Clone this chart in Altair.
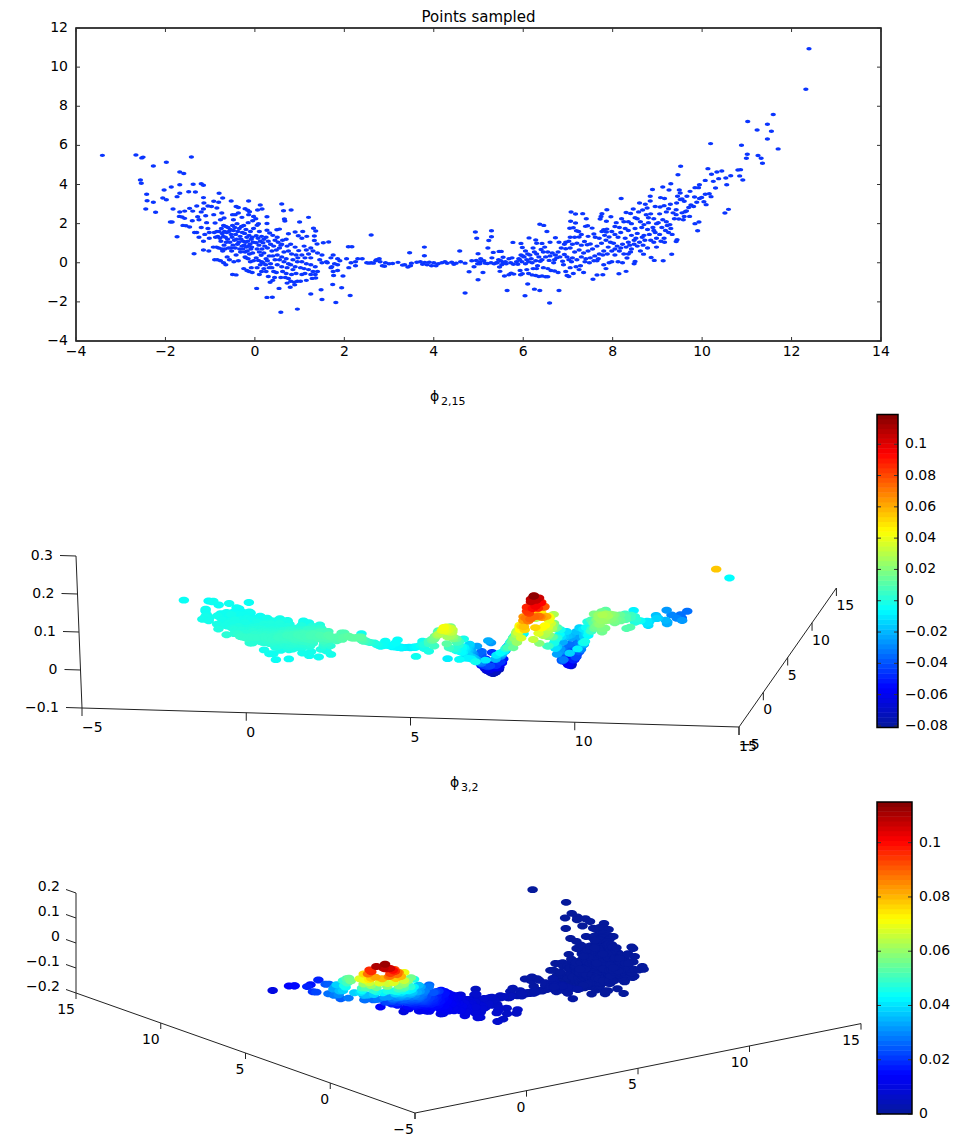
import altair as alt
import pandas as pd

FONT = "DejaVu Sans"
BLUE = "#0a35ff"
ELLIPSE = "M-1,0A1,0.66,0,1,1,1,0A1,0.66,0,1,1,-1,0Z"

# ---------- sampled points, band by band along the first coordinate ----------
xA = [-3.41,-2.66,-2.53,-2.50,-2.27,-1.98,-1.42,-1.68,-1.59,-2.56,
 -2.54,-2.42,-2.41,-2.27,-2.44,-2.22,-2.03,-1.87,-1.68,-1.38,
 -1.20,-1.15,-1.68,-1.74,-1.48,-1.33,-2.06,-1.98,-1.83,-1.68,
 -1.57,-1.46,-1.39,-1.89,-1.85,-1.69,-1.63,-1.57,-1.61,-1.54,
 -1.46,-1.74,-1.36,-1.15,-1.14,-1.30,-1.25,-1.20,-1.15,-1.10,
 -1.05,-1.20,-1.25,-1.30,-1.15,-1.05,-1.02,-1.40,-1.08,-1.03,
 -1.15,-1.28,-1.35,-1.12,-1.02]
yA = [5.49,5.51,5.36,5.40,4.95,5.14,5.41,4.64,4.56,4.23,
 4.06,3.50,3.17,3.09,2.75,2.58,3.72,3.87,3.99,4.01,
 4.04,3.96,3.55,3.38,3.63,3.62,3.31,3.22,2.75,2.59,
 2.64,2.78,2.64,2.08,2.08,2.37,2.34,2.27,1.91,1.89,
 1.83,1.33,0.46,3.33,3.05,2.90,2.20,2.60,2.75,2.40,
 2.90,1.80,1.30,1.55,1.10,1.75,1.55,2.15,2.05,0.60,
 0.65,2.35,1.55,1.45,1.25]
phi2A = [-4,-5,-4,-3,-4,-3,-4,-4,-5,-3,
 -4,-3,-2,-3,-2,-2,-4,-3,-4,-4,
 -3,-4,-2,-3,-3,-3,-2,-3,-2,-3,
 -2,-1,-2,-1,-2,-2,-3,-1,-1,-2,
 -1,0,2,-3,-2,-2,-1,-2,-2,-1,
 -3,0,1,0,1,-1,0,-1,-1,3,
 2,-2,0,0,1]
phi3A = [10,14,15,15,18,16,18,24,25,20,
 22,27,28,30,25,28,33,33,38,48,
 52,55,45,44,50,56,36,38,38,40,
 44,50,52,27,27,34,36,36,26,27,
 28,14,9,68,70,60,45,60,66,55,
 74,32,18,22,16,32,27,38,42,11,
 11,48,20,23,20]

xB = [-.92,-.81,-.72,-.53,-.80,-.42,-.37,-.14,-.22,-.16,
 -.12,-.37,-.44,-.29,-.50,-.74,-.85,-.92,-.97,-.69,
 -.77,-.89,-.48,-.14,-.03,-.91,-.88,-.93,-.90,-.85,
 -.83,-.86,-.84,-.80,-.78,-.81,-.75,-.73,-.76,-.74,
 -.77,-.70,-.68,-.71,-.69,-.72,-.70,-.65,-.63,-.66,
 -.64,-.67,-.65,-.60,-.58,-.61,-.59,-.62,-.55,-.53,
 -.56,-.54,-.57,-.50,-.48,-.51,-.49,-.52,-.50,-.45,
 -.43,-.46,-.44,-.47,-.42,-.40,-.38,-.41,-.39,-.42,
 -.35,-.33,-.36,-.34,-.37,-.30,-.28,-.31,-.29,-.32,
 -.25,-.23,-.26,-.24,-.27,-.22,-.25,-.20,-.18,-.21,
 -.19,-.22,-.20,-.18,-.15,-.13,-.16,-.14,-.17,-.15,
 -.13,-.10,-.08,-.11,-.09,-.12,-.10,-.08,-.05,-.03,
 -.06,-.04,-.07,-.05,-.03,-.06]
yB = [3.14,3.09,3.31,3.16,3.55,2.88,2.82,3.16,2.76,2.68,
 2.61,2.54,2.46,2.32,2.46,2.54,2.80,2.46,2.88,2.29,
 2.20,2.03,2.20,2.46,2.37,1.55,1.30,.80,.15,1.60,
 1.35,.80,.15,1.60,1.25,.75,1.75,1.50,1.10,.70,
 .10,1.90,1.60,1.35,.90,.60,.00,1.85,1.55,1.30,
 1.05,.70,-.10,1.80,1.60,1.20,.75,.30,1.70,1.45,
 1.05,.75,.15,1.90,1.65,1.30,.90,.60,-.60,1.80,
 1.45,1.15,.75,.05,-.62,2.00,1.60,1.20,.95,.40,
 1.75,1.35,1.05,.70,.10,1.85,1.55,1.20,.85,.55,
 1.90,1.50,1.10,.90,.70,.30,-.30,1.70,1.30,1.05,
 .80,.55,.25,-.40,2.05,1.40,1.10,.85,.60,.20,
 -.45,1.60,1.20,.95,.70,.45,.05,-.25,2.15,1.75,
 1.30,1.05,.80,.50,.10,-.50]
phi2B = [-3,-3,-3,-2,-4,-2,-2,-2,-1,-1,
 -1,-1,-1,0,-1,-1,-2,-2,-2,-1,
 -1,-1,0,-1,0,0,0,1,4,0,
 0,1,3,0,1,2,0,0,1,2,
 4,-1,0,1,1,2,4,0,0,1,
 2,2,4,0,0,1,2,3,0,1,
 1,2,4,0,0,1,2,3,2,0,
 1,1,2,4,2,-1,0,1,2,3,
 0,1,2,2,4,0,0,1,2,3,
 0,0,1,2,2,3,2,0,1,2,
 2,3,4,2,-1,1,1,2,3,4,
 2,0,1,2,2,3,4,3,-1,0,
 1,2,2,3,4,2]
phi3B = [88,96,96,110,76,108,106,112,106,100,
 96,94,88,78,86,80,82,68,78,66,
 58,46,68,88,80,26,20,15,11,30,
 23,15,11,30,22,15,38,29,20,15,
 12,46,32,25,18,15,11,44,32,25,
 20,16,11,44,34,23,17,13,40,30,
 21,17,13,50,36,25,19,16,10,46,
 31,23,17,13,10,58,36,24,20,15,
 43,28,22,18,14,50,35,25,20,16,
 52,34,24,21,18,15,12,42,28,23,
 20,17,15,12,58,30,25,21,18,15,
 12,37,27,22,19,17,14,13,60,42,
 28,23,20,17,14,12]

xC = [.12,.16,.06,.27,.08,.27,.60,.64,.81,.66,
 .67,.90,.75,.49,.55,.27,.33,.02,.05,.10,
 .03,.07,.12,.03,.09,.15,.20,.18,.22,.16,
 .05,.10,.14,.03,.08,.20,.25,.15,.25,.30,
 .35,.28,.38,.32,.28,.35,.40,.45,.42,.48,
 .40,.45,.38,.42,.50,.52,.55,.50,.55,.50,
 .48,.44,.58,.62,.65,.60,.65,.60,.62,.58,
 .70,.72,.75,.70,.75,.72,.70,.75,.68,.80,
 .82,.85,.80,.85,.82,.80,.90,.92,.95,.90,
 .92,.95,.88,.54,.79,.89,.72,.58,.95,.27,
 .39,.04,.30,.25,.20,.15,.10,.05,.34,.40,
 .18,.12,.32,.24,.60,.97,.98,.96]
yC = [2.95,2.75,2.70,2.35,2.00,2.01,3.00,2.66,2.70,2.24,
 2.13,1.57,1.48,1.69,1.72,1.66,1.52,2.25,1.92,1.60,
 1.38,1.25,1.10,1.02,.90,1.35,1.20,1.02,.85,.70,
 .70,.55,.38,.25,.12,.50,.20,.05,1.30,1.10,
 .95,.75,.60,.35,.10,-.05,1.40,1.15,.85,.65,
 .35,.15,-.25,-.45,1.30,1.05,.75,.40,.15,-.10,
 -.50,-.75,.90,1.15,.55,.30,.05,-.20,-.45,-.75,
 1.20,.85,.60,.20,-.05,-.25,-.55,-.80,-.75,.95,
 .45,.15,-.10,-.35,-.60,-.95,.80,.40,.05,-.20,
 -.55,-.95,-1.00,-1.31,-1.25,-1.13,-1.04,-2.53,-2.37,-1.77,
 -1.76,-1.31,-.70,-.45,-.30,-.45,-.60,-.25,-1.00,-.90,
 .00,-.10,-.25,-.10,.95,1.38,.62,.25]
phi2C = [-2,-1,-1,-1,0,0,-3,-2,-2,-1,
 0,2,2,1,1,0,1,-1,0,0,
 1,1,2,2,2,1,2,2,3,3,
 3,3,4,4,4,4,5,4,2,2,
 3,4,4,5,5,4,2,3,4,5,
 5,5,3,2,3,3,4,6,5,4,
 2,1,4,3,6,6,5,3,2,1,
 3,5,6,6,5,3,2,1,1,4,
 7,6,5,3,2,0,6,7,6,4,
 2,0,0,-2,-1,-1,0,-4,-4,-3,
 -3,-2,1,2,3,2,2,3,0,0,
 4,4,3,4,4,4,7,7]
phi3C = [92,84,88,58,48,42,70,56,46,36,
 33,22,24,29,28,32,28,66,48,34,
 28,25,22,21,20,26,23,21,19,18,
 18,17,15,15,14,16,14,14,23,21,
 19,17,16,14,13,12,23,20,17,15,
 14,13,12,11,20,18,15,14,13,12,
 11,10,16,17,14,13,12,11,10,10,
 17,15,13,12,11,11,10,9,9,15,
 12,11,10,10,9,8,13,11,10,10,
 9,8,8,9,8,8,9,7,6,9,
 8,10,11,12,12,12,12,13,10,10,
 13,13,12,12,16,16,12,10]

xD = [1.00,1.20,1.07,1.31,1.36,1.33,1.16,1.39,1.53,1.65,
 1.33,1.05,1.10,1.15,1.25,1.05,1.12,1.20,1.30,1.25,
 1.40,1.50,1.45,1.05,1.15,1.25,1.35,1.02,1.10,1.20,
 1.30,1.40,1.05,1.12,1.25,1.35,1.02,1.15,1.28,1.36,
 1.50,1.60,1.70,1.75,1.85,1.90,1.72,1.62,1.78,1.85,
 1.70,1.75,1.85,1.76,1.97,1.94,1.81,1.50,1.48,1.74,
 1.25]
yD = [2.08,2.32,1.60,1.76,1.62,1.37,1.35,.96,1.02,1.06,
 1.14,1.25,.85,.65,.75,.40,.25,.45,.60,.25,
 .50,.40,.15,.05,-.05,-.10,-.20,-.25,-.30,-.35,
 -.45,-.45,-.60,-.55,-.60,-.60,-.95,-.90,-.80,-.78,
 .00,.05,.25,.40,.20,.10,-.20,.00,-.05,-.10,
 -.25,-.45,-.40,-.65,-.68,-1.28,-2.03,-1.88,-1.38,-1.11,
 -1.60]
phi2D = [1,0,3,3,3,4,4,7,7,7,
 5,4,6,7,7,7,7,8,8,8,
 8,9,8,6,6,6,5,4,4,4,
 3,3,2,2,2,2,0,0,1,1,
 7,8,9,10,10,9,6,7,8,8,
 6,4,4,2,2,-1,-3,-3,-2,0,
 -2]
phi3D = [28,26,20,16,14,13,16,10,9,8,
 12,16,12,11,11,10,10,10,10,9,
 9,8,8,10,9,9,8,9,9,8,
 8,8,9,8,8,8,8,8,7,7,
 8,7,7,7,7,6,7,7,7,6,
 7,7,6,6,6,6,6,6,7,6,
 7]

xE = [2.09,2.17,2.13,2.60,3.46,3.79,3.79,2.05,2.15,2.10,
 2.25,2.30,2.25,2.40,2.50,2.55,2.60,2.65,2.70,2.72,
 2.78,2.80,2.85,2.90,2.92,3.00,3.08,3.20,3.30,3.35,
 3.42,3.48,3.50,3.62,3.70,3.75,3.80,3.85,3.90,3.95,
 4.00,4.05,4.10,4.18,4.25,4.30,4.40,4.45,4.50,4.58,
 4.60,4.70,4.79,4.70,4.85,4.90,4.93,4.96,4.99,4.99,
 4.95,4.98]
yE = [.82,.82,-1.67,1.42,.51,.80,.36,.20,.00,-.25,
 .05,.20,-.15,.20,.00,-.02,.00,-.02,.10,.15,
 .20,.05,-.15,-.18,.00,-.05,-.04,.02,-.12,-.10,
 -.22,-.15,-.02,.03,.05,-.08,.02,-.10,.03,-.15,
 .00,-.15,-.05,.00,.05,-.03,.03,-.08,-.02,.60,
 .05,-.02,-.46,-1.55,.10,-.20,1.57,1.25,-.87,.46,
 .12,-.05]
phi2E = [9,9,-2,-3,-4,-5,-5,10,10,8,
 11,11,10,12,12,12,12,12,12,12,
 11,11,9,7,6,4,2,0,-2,-3,
 -4,-4,-5,-6,-6,-7,-7,-7,-8,-7,
 -8,-8,-9,-9,-9,-9,-8,-7,-6,-3,
 -3,0,-2,-3,7,6,8,10,-1,14,
 12,12]
phi3E = [7,7,6,5,3,3,3,7,6,6,
 6,6,6,6,5,5,5,5,5,5,
 5,5,4,4,4,4,4,3,3,3,
 3,3,3,3,2,2,2,2,2,2,
 2,2,2,2,1,1,1,1,1,1,
 1,1,1,1,1,1,1,1,1,1,
 1,1]

xF = [5.29,5.29,5.23,5.21,5.33,5.46,5.51,5.77,5.95,5.98,
 5.10,5.48,5.58,5.68,5.73,5.79,5.93,5.98,5.94,5.64,
 5.05,5.04,5.03,5.15,5.20,5.28,5.35,5.40,5.30,5.45,
 5.50,5.55,5.60,5.47,5.52,5.62,5.68,5.72,5.78,5.85,
 5.90,5.95,5.92,5.88,5.99,5.97,5.75,5.42,5.55,5.12]
yF = [1.64,1.33,1.14,.75,.53,.58,.58,1.04,.99,.78,
 -.50,-.44,-.68,-.61,-.53,-.58,-.39,-.56,-.61,-1.42,
 .20,.05,-.05,-.02,-.04,.00,-.05,.00,.25,.15,
 .10,.00,.05,-.22,-.10,-.05,.20,.00,-.08,.05,
 .20,.40,.15,-.08,.35,.05,.25,.00,.28,.10]
phi2F = [18,22,24,28,38,34,30,-2,-14,-16,
 6,12,6,2,0,-3,-8,-8,-6,-9,
 18,16,15,26,30,38,40,38,42,36,
 32,26,22,26,24,18,14,8,2,-4,
 -8,-14,-10,-6,-16,-12,6,36,30,24]
phi3F = [1,1,1,1,1,1,1,1,0,0,
 1,1,1,0,0,0,0,0,0,0,
 1,1,1,1,1,1,1,1,1,1,
 1,0,0,1,0,0,0,0,0,0,
 0,0,0,0,0,0,0,1,0,1]

xG = [6.13,6.28,6.30,6.42,6.37,6.46,6.53,6.72,6.60,6.80,
 6.04,6.37,6.25,6.10,6.59,6.80,6.05,6.10,6.02,6.15,
 6.08,6.18,6.12,6.05,6.20,6.25,6.22,6.30,6.35,6.28,
 6.38,6.32,6.42,6.50,6.45,6.40,6.48,6.55,6.60,6.58,
 6.65,6.72,6.70,6.68,6.75,6.78,6.85,6.82,6.88,6.92,
 6.95,6.98,6.90,6.12,6.20,6.28,6.35,6.42,6.50,6.55,
 6.62,6.55,6.70,6.78,6.45,6.22,6.30,6.08,6.95,6.98,
 6.92,6.95]
yG = [1.27,1.16,1.00,.99,1.97,1.91,1.60,1.28,1.05,1.05,
 -1.69,-1.42,-1.35,-1.09,-2.06,-1.42,.60,.45,.30,.40,
 .15,.20,.05,-.05,.00,.55,.75,.45,.30,.10,
 .08,-.15,.15,.30,.55,.68,.80,.55,.35,.12,
 .50,.40,.15,.00,.25,.55,.75,.30,.08,.42,
 .72,.30,-.10,-.55,-.62,-.65,-.70,-.68,-.72,-.72,
 -.40,-.30,-.42,-.50,-.25,-.30,-.30,-.35,-.45,-.65,
 .95,1.05]
phi2G = [-24,-36,-40,-52,-22,-26,-46,-66,-66,-66,
 -5,-8,-8,-12,-3,-10,-22,-26,-18,-30,
 -24,-32,-26,-20,-32,-40,-36,-44,-48,-40,
 -46,-38,-54,-64,-60,-56,-62,-70,-72,-66,
 -76,-78,-72,-62,-76,-78,-74,-72,-58,-62,
 -56,-46,-48,-14,-16,-18,-20,-24,-28,-32,
 -44,-44,-46,-42,-36,-24,-28,-16,-26,-20,
 -60,-52]
phi3G = [0,0,0,0,0,0,0,0,0,0,
 0,0,0,0,0,0,0,0,0,0,
 0,0,0,0,0,0,0,0,0,0,
 0,0,0,0,0,0,0,0,0,0,
 0,0,0,0,0,0,0,0,0,0,
 0,0,0,0,0,0,0,0,0,0,
 0,0,0,0,0,0,0,0,0,0,
 0,0]

xH = [7.07,7.17,7.33,7.41,7.06,7.17,7.04,7.12,7.19,7.24,
 7.39,7.44,7.54,7.74,7.76,7.87,7.96,7.72,7.86,7.80,
 7.87,7.76,7.86,7.58,7.61,7.37,7.43,7.50,7.05,7.15,
 7.25,7.02,7.10,7.20,7.30,7.05,7.15,7.25,7.35,7.45,
 7.55,7.65,7.75,7.85,7.95,7.90,7.80,7.70,7.60,7.50,
 7.40,7.30,7.20,7.10,7.02,7.08,7.18,7.28,7.38,7.48,
 7.58,7.68,7.78,7.88,7.98,7.05,7.12,7.02,7.25,7.35,
 7.56,7.65,7.78,7.80,7.85,7.92,7.98,7.70,7.82,7.92,
 7.98,7.45,7.30,7.65]
yH = [2.59,2.49,2.51,2.25,2.12,2.03,1.76,1.79,1.64,1.60,
 1.86,1.89,1.77,2.37,2.51,2.71,2.35,2.24,2.12,1.69,
 1.72,1.60,1.57,1.47,1.30,1.09,.92,.96,1.30,1.30,
 1.32,1.10,.95,1.00,.90,.75,.55,.65,.50,.60,
 .70,.85,1.00,1.15,1.05,.80,.60,.45,.35,.25,
 .20,.30,.15,.25,.15,.05,-.20,-.15,.05,.00,
 .10,.20,.40,.45,.60,-.25,-.55,-.70,-.35,-.50,
 -.84,-.63,-.61,-.10,-.30,.00,.05,1.25,1.40,1.32,
 1.60,1.35,1.45,.10]
phi2H = [-30,-24,-14,-6,-28,-18,-26,-16,-6,0,
 10,16,34,38,30,34,48,44,62,84,
 92,80,96,46,52,16,26,36,-24,-12,
 0,-30,-18,-6,8,-26,-14,0,12,28,
 45,65,88,106,116,106,84,62,44,28,
 14,4,-8,-18,-28,-20,-8,2,12,22,
 36,52,70,82,92,-14,-6,-10,2,8,
 14,24,36,56,52,70,74,82,100,112,
 100,26,6,44]
phi3H = [0,0,0,0,0,0,0,0,0,0,
 0,0,0,0,0,0,0,0,0,0,
 0,0,0,0,0,0,0,0,0,0,
 0,0,0,0,0,0,0,0,0,0,
 0,0,0,0,0,0,0,0,0,0,
 0,0,0,0,0,0,0,0,0,0,
 0,0,0,0,0,0,0,0,0,0,
 0,0,0,0,0,0,0,0,0,0,
 0,0,0,0]

xJ = [8.19,8.60,8.73,8.77,8.67,8.84,8.84,8.89,8.95,8.30,
 8.40,8.50,8.20,8.25,8.08,8.05,8.15,8.35,8.42,8.55,
 8.62,8.70,8.85,8.80,8.92,8.98,8.90,8.78,8.65,8.50,
 8.35,8.18,8.05,8.12,8.28,8.42,8.55,8.70,8.82,8.95,
 8.98,8.85,8.72,8.60,8.48,8.35,8.22,8.10,8.02,8.05,
 8.18,8.30,8.42,8.55,8.68,8.78,8.92,8.98,8.05,8.12,
 8.22,8.32,8.30,8.14,8.50,8.48,8.69,8.86,8.93,8.15,
 8.40,8.62,8.35,8.25,8.48,8.75,8.58,8.46,8.92,8.80,
 8.28,8.66,8.52,8.38]
yJ = [3.28,3.05,2.99,2.80,2.70,3.40,3.16,3.74,2.88,2.57,
 2.52,2.30,2.25,2.10,2.05,1.85,1.80,2.10,2.00,2.25,
 2.10,1.95,2.50,2.30,2.25,2.00,1.80,1.70,1.80,1.75,
 1.65,1.55,1.45,1.30,1.25,1.40,1.50,1.40,1.45,1.55,
 1.25,1.15,1.15,1.05,1.15,1.05,.95,.85,1.00,.70,
 .75,.80,.70,.85,.90,.75,1.05,.80,.40,.05,
 .00,.24,-.44,-.56,.07,-.05,.44,.27,.12,.60,
 .55,.60,.45,.45,.95,2.45,2.60,2.75,1.65,2.05,
 1.75,1.30,1.25,.90]
phi2J = [28,-12,-20,-24,-18,-18,-24,-14,-34,18,
 8,-6,42,40,72,86,76,22,14,-12,
 -22,-38,-38,-44,-54,-62,-68,-56,-34,-4,
 34,78,104,94,60,26,0,-34,-56,-70,
 -68,-58,-40,-16,8,36,62,88,106,96,
 68,44,22,-2,-26,-44,-62,-58,74,52,
 38,28,20,32,4,6,-24,-38,-32,72,
 20,-12,28,44,12,-34,-16,-2,-64,-50,
 40,-26,-2,30]
phi3J = [0,0,0,0,0,0,0,0,0,0,
 0,0,0,0,0,0,0,0,0,0,
 0,0,0,0,0,0,0,0,0,0,
 0,0,0,0,0,0,0,0,0,0,
 0,0,0,0,0,0,0,0,0,0,
 0,0,0,0,0,0,0,0,0,0,
 0,0,0,0,0,0,0,0,0,0,
 0,0,0,0,0,0,0,0,0,0,
 0,0,0,0]

xK = [9.12,9.26,9.07,9.16,9.06,9.15,9.25,9.29,9.42,9.42,
 9.48,9.62,9.60,9.72,9.58,9.44,9.42,9.33,9.32,9.13,
 9.51,9.55,9.43,9.51,9.49,9.30,9.52,9.46,9.94,9.84,
 9.92,9.73,9.66,9.83,9.60,9.75,9.94,9.99,9.88,9.81,
 9.70,9.93,9.84,9.90,9.05,9.12,9.20,9.28,9.38,9.02,
 9.10,9.18,9.25,9.05,9.15,9.22,9.30,9.08,9.16,9.55,
 9.65,9.35,9.20,9.45]
yK = [3.87,3.72,3.33,3.28,2.85,2.92,2.76,2.99,2.71,2.46,
 2.24,2.61,2.37,2.37,2.20,1.18,1.09,1.45,.43,.10,
 3.23,3.26,3.05,3.57,3.72,4.04,4.93,4.50,3.99,3.84,
 3.84,3.65,3.40,3.36,3.14,2.95,3.28,3.34,3.09,2.88,
 2.82,2.08,2.00,1.64,2.50,2.20,2.10,1.95,2.25,2.05,
 1.80,1.65,1.55,1.45,1.25,1.90,1.75,1.10,1.05,2.55,
 2.65,2.55,2.60,3.40]
phi2K = [0,8,-10,-4,-24,-16,-12,-6,4,2,
 6,18,16,22,14,-2,-4,-10,-8,-14,
 18,22,12,24,22,18,12,16,18,22,
 20,26,28,26,24,24,20,18,20,22,
 24,18,18,16,-32,-38,-30,-24,-6,-52,
 -46,-38,-30,-56,-44,-28,-20,-50,-42,12,
 20,-4,-16,14]
phi3K = [0,0,0,0,0,0,0,0,0,0,
 0,0,0,0,0,0,0,0,0,0,
 0,0,0,0,0,0,0,0,0,0,
 0,0,0,0,0,0,0,0,0,0,
 0,0,0,0,0,0,0,0,0,0,
 0,0,0,0,0,0,0,0,0,0,
 0,0,0,0]

xL = [12.39,12.32,11.59,11.02,11.46,11.23,11.55,11.46,11.70,10.88,
 10.19,11.01,10.99,11.25,11.32,11.35,10.13,10.21,10.33,10.44,
 10.80,10.86,10.64,10.84,10.91,10.37,10.53,10.25,10.07,10.55,
 10.30,10.07,10.16,10.20,10.04,10.09,10.59,10.51]
yL = [10.94,8.87,7.58,7.22,7.08,6.79,6.72,6.33,5.82,6.01,
 6.09,5.55,5.34,5.48,5.34,5.09,4.81,4.52,4.64,4.69,
 4.74,4.76,4.45,4.44,4.23,4.30,4.33,4.16,4.21,3.99,
 3.82,3.50,3.53,3.38,3.12,2.97,2.73,2.54]
phi2L = [-6,55,-34,-26,-34,-30,-36,-30,-26,-18,
 -8,-16,-14,-20,-22,-22,6,8,6,2,
 -10,-12,-4,-10,-12,6,2,10,14,0,
 10,16,14,14,18,16,10,10]
phi3L = [0,0,0,0,0,0,0,0,0,0,
 0,0,0,0,0,0,0,0,0,0,
 0,0,0,0,0,0,0,0,0,0,
 0,0,0,0,0,0,0,0]

xs = xA + xB + xC + xD + xE + xF + xG + xH + xJ + xK + xL
ys = yA + yB + yC + yD + yE + yF + yG + yH + yJ + yK + yL
phi2 = phi2A + phi2B + phi2C + phi2D + phi2E + phi2F + phi2G + phi2H + phi2J + phi2K + phi2L
phi3 = phi3A + phi3B + phi3C + phi3D + phi3E + phi3F + phi3G + phi3H + phi3J + phi3K + phi3L

# ---------- tick values ----------
TOP_X = [-4, -2, 0, 2, 4, 6, 8, 10, 12, 14]
TOP_Y = [-4, -2, 0, 2, 4, 6, 8, 10, 12]
AXIS_3D = [-5, 0, 5, 10, 15]
P2_Z = [-0.1, 0, 0.1, 0.2, 0.3]
P3_Z = [-0.2, -0.1, 0, 0.1, 0.2]
CB2_TICKS = [-0.08, -0.06, -0.04, -0.02, 0, 0.02, 0.04, 0.06, 0.08, 0.1]
CB3_TICKS = [0, 0.02, 0.04, 0.06, 0.08, 0.1]
CB2_DOMAIN = [-0.081, 0.119]
CB3_DOMAIN = [0, 0.115]
JET_STOPS = [0, 0.125, 0.375, 0.625, 0.875, 1]
JET_COLORS = ["#05199b", "#0000ff", "#00ffff", "#ffff00", "#ff0000", "#800000"]

LEFT, PANEL_W = 76, 805


def jet_scale(domain):
    lo, hi = domain
    return alt.Scale(domain=[lo + s * (hi - lo) for s in JET_STOPS],
                     range=JET_COLORS, interpolate="rgb")


def lab(v):
    return str(v).replace("-", "\u2212")


def one():
    return alt.Data(values=[{"a": 1}])


# ---------- top scatter ----------
TOP_H = 313
sx_top = alt.Scale(domain=[-4, 14], nice=False, zero=False)
sy_top = alt.Scale(domain=[-4, 12], nice=False, zero=False)
top_df = pd.DataFrame({"x": xs, "y": ys})
top_pts = alt.Chart(top_df).mark_point(shape=ELLIPSE, filled=True, size=27, opacity=1,
                                       color=BLUE, strokeWidth=0).encode(
    x=alt.X("x:Q", scale=sx_top, axis=None),
    y=alt.Y("y:Q", scale=sy_top, axis=None),
)
frame_top = alt.Chart(one()).mark_rect(fillOpacity=0, stroke="black", strokeWidth=1.5).encode(
    x=alt.value(0), x2=alt.value(PANEL_W), y=alt.value(0), y2=alt.value(TOP_H))
tx = pd.DataFrame({"t": TOP_X, "s": [lab(v) for v in TOP_X]})
ty = pd.DataFrame({"t": TOP_Y, "s": [lab(v) for v in TOP_Y]})
tick_kw = dict(color="#333333", strokeWidth=1)
top_layers = [top_pts, frame_top]
for a, b in ((0, 4), (TOP_H - 4, TOP_H)):
    top_layers.append(alt.Chart(tx).mark_rule(**tick_kw).encode(
        x=alt.X("t:Q", scale=sx_top, axis=None), y=alt.value(a), y2=alt.value(b)))
for a, b in ((0, 4), (PANEL_W - 4, PANEL_W)):
    top_layers.append(alt.Chart(ty).mark_rule(**tick_kw).encode(
        y=alt.Y("t:Q", scale=sy_top, axis=None), x=alt.value(a), x2=alt.value(b)))
top_layers.append(alt.Chart(tx).mark_text(font=FONT, fontSize=14, color="black", align="center",
                                          baseline="middle").encode(
    x=alt.X("t:Q", scale=sx_top, axis=None), y=alt.value(TOP_H + 11), text="s:N"))
top_layers.append(alt.Chart(ty).mark_text(font=FONT, fontSize=14, color="black", align="right",
                                          baseline="middle").encode(
    y=alt.Y("t:Q", scale=sy_top, axis=None), x=alt.value(-8), text="s:N"))
title_top = alt.Chart(one()).mark_text(text="Points sampled", font=FONT, fontSize=15,
                                       color="black", align="center", baseline="middle").encode(
    x=alt.value(478.5 - LEFT), y=alt.value(17 - 28))
top = alt.layer(*top_layers, title_top).properties(width=PANEL_W, height=TOP_H)


# ---------- 3-D views: the data are projected with the view ----------
def make_proj(origin, ex, ey, ez, lo_xy=-5, lo_z=0.0):
    def proj(x, y, z):
        dx, dy, dz = x - lo_xy, y - lo_xy, z - lo_z
        return (origin[0] + dx * ex[0] + dy * ey[0] + dz * ez[0],
                origin[1] + dx * ex[1] + dy * ey[1] + dz * ez[1])
    return proj


def view3d(proj, phi, cdomain, lines, ticks, labels, title, sub, title_xy, top_px, height, bar, bar_ticks):
    sxs = alt.Scale(domain=[LEFT, LEFT + PANEL_W], nice=False, zero=False)
    sys = alt.Scale(domain=[top_px + height, top_px], nice=False, zero=False)
    X = alt.X("sx:Q", scale=sxs, axis=None)
    Y = alt.Y("sy:Q", scale=sys, axis=None)
    color = alt.Color("v:Q", scale=jet_scale(cdomain), legend=None)

    rows = [dict(zip(("sx", "sy"), proj(x, y, p / 1000.0)), v=p / 1000.0)
            for x, y, p in zip(xs, ys, phi, strict=True)]
    rows.sort(key=lambda r: r["v"])
    pts = alt.Chart(pd.DataFrame(rows)).mark_point(shape=ELLIPSE, filled=True, size=110, opacity=1,
                                                   strokeWidth=0).encode(x=X, y=Y, color=color)
    seg_rows = []
    for (a, b) in lines:
        p, q = proj(*a), proj(*b)
        seg_rows.append({"sx": p[0], "sy": p[1], "sx2": q[0], "sy2": q[1]})
    for (a, d) in ticks:
        p = proj(*a)
        seg_rows.append({"sx": p[0], "sy": p[1], "sx2": p[0] + d[0], "sy2": p[1] + d[1]})
    segs = alt.Chart(pd.DataFrame(seg_rows)).mark_rule(color="#222222", strokeWidth=1).encode(
        x=X, y=Y, x2="sx2:Q", y2="sy2:Q")
    layers = [segs, pts]
    for align, entries in labels.items():
        lrows = []
        for (a, off, text) in entries:
            p = proj(*a)
            lrows.append({"sx": p[0] + off[0], "sy": p[1] + off[1], "t": text})
        layers.append(alt.Chart(pd.DataFrame(lrows)).mark_text(
            font=FONT, fontSize=14, color="black", align=align, baseline="middle").encode(
            x=X, y=Y, text="t:N"))
    layers.append(alt.Chart(one()).mark_text(text=title, font=FONT, fontSize=14, color="black",
                                             align="left", baseline="middle").encode(
        x=alt.value(title_xy[0] - LEFT), y=alt.value(title_xy[1] - top_px)))
    layers.append(alt.Chart(one()).mark_text(text=sub, font=FONT, fontSize=11, color="black",
                                             align="left", baseline="middle").encode(
        x=alt.value(title_xy[0] + 11 - LEFT), y=alt.value(title_xy[1] + 5 - top_px)))

    # colour bar, 64 steps of the same colour scale
    bx0, bx1, by_top, by_bot = bar
    lo, hi = cdomain
    vy = lambda v: by_bot + (v - lo) / (hi - lo) * (by_top - by_bot)
    n = 64
    step = (hi - lo) / n
    bar_rows = [{"sx": bx0, "sx2": bx1, "sy": vy(lo + i * step),
                 "sy2": vy(min(hi, lo + (i + 1) * step)) - (0.5 if i < n - 1 else 0),
                 "v": lo + (i + 0.5) * step} for i in range(n)]
    layers.append(alt.Chart(pd.DataFrame(bar_rows)).mark_rect(strokeWidth=0).encode(
        x=X, x2="sx2:Q", y=Y, y2="sy2:Q", color=color))
    trows = []
    for t in bar_ticks:
        trows.append({"sx": bx0, "sx2": bx0 + 4, "sy": vy(t), "sy2": vy(t)})
        trows.append({"sx": bx1 - 4, "sx2": bx1, "sy": vy(t), "sy2": vy(t)})
    layers.append(alt.Chart(pd.DataFrame(trows)).mark_rule(**tick_kw).encode(
        x=X, y=Y, x2="sx2:Q", y2="sy2:Q"))
    layers.append(alt.Chart(pd.DataFrame([{"sx": bx0, "sx2": bx1, "sy": by_bot, "sy2": by_top}])).mark_rect(
        fillOpacity=0, stroke="black", strokeWidth=1.5).encode(x=X, x2="sx2:Q", y=Y, y2="sy2:Q"))
    layers.append(alt.Chart(pd.DataFrame([{"sx": bx1 + 7, "sy": vy(t), "t": lab(t)} for t in bar_ticks])).mark_text(
        font=FONT, fontSize=14, color="black", align="left", baseline="middle").encode(x=X, y=Y, text="t:N"))
    return alt.layer(*layers).properties(width=PANEL_W, height=height)


# panel 2
proj2 = make_proj((82, 708), (32.85, 0.95), (4.87, -6.95), (-15, -380), lo_z=-0.1)
lines2 = [((-5, -5, -0.1), (15, -5, -0.1)), ((15, -5, -0.1), (15, 15, -0.1)), ((-5, -5, -0.1), (-5, -5, 0.3))]
ticks2 = ([((v, -5, -0.1), (0, 8)) for v in AXIS_3D]
          + [((15, v, -0.1), (0, 8)) for v in AXIS_3D]
          + [((-5, -5, v), (-16, -0.5)) for v in P2_Z])
labels2 = {
    "left": [((v, -5, -0.1), (0, 20), lab(v)) for v in AXIS_3D]
            + [((15, v, -0.1), (0, 18), lab(v)) for v in AXIS_3D],
    "right": [((-5, -5, v), (-23, 0), lab(v)) for v in P2_Z],
}
p2 = view3d(proj2, phi2, CB2_DOMAIN, lines2, ticks2, labels2, "\u03d5", "2,15", (430, 397), 414, 315,
            (877, 898, 414.5, 727.5), CB2_TICKS)

# panel 3
proj3 = make_proj((415, 1113), (22.3, -4.47), (-16.95, -6.0), (0, -250), lo_z=-0.2)
lines3 = [((-5, -5, -0.2), (15, -5, -0.2)), ((-5, -5, -0.2), (-5, 15, -0.2)), ((-5, 15, -0.2), (-5, 15, 0.2))]
ticks3 = ([((v, -5, -0.2), (0, 6)) for v in AXIS_3D]
          + [((-5, v, -0.2), (0, 6)) for v in AXIS_3D]
          + [((-5, 15, v), (-10, -3.5)) for v in P3_Z])
labels3 = {
    "right": [((v, -5, -0.2), (-1, 17), lab(v)) for v in AXIS_3D[1:]]
             + [((-5, v, -0.2), (-1, 17), lab(v)) for v in AXIS_3D]
             + [((-5, 15, v), (-16, -6), lab(v)) for v in P3_Z],
}
p3 = view3d(proj3, phi3, CB3_DOMAIN, lines3, ticks3, labels3, "\u03d5", "3,2", (450, 783), 802, 312,
            (877, 912, 802, 1114), CB3_TICKS)

chart = alt.vconcat(top, p2, p3, spacing=73, bounds="flush").properties(
    padding={"left": 17, "top": 2, "right": 0, "bottom": 0}
).resolve_scale(color="independent").configure_view(stroke=None)

chart.save("out.html", embed_options={"renderer": "svg", "actions": False})
